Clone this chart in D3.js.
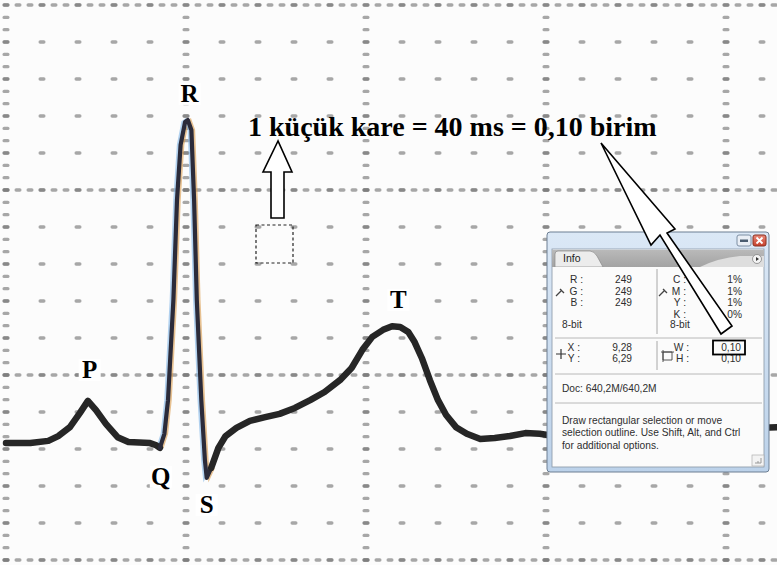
<!DOCTYPE html>
<html><head><meta charset="utf-8">
<script src="https://cdn.jsdelivr.net/npm/d3@7"></script>
<style>html,body{margin:0;padding:0;background:#fff;overflow:hidden}</style>
</head><body>
<svg id="c" width="777" height="565"></svg>
<script>
// ---- data (time in ms, amplitude in "birim") ----
const timesMs = [0,27,47,58,71,82,91,100,111,124,136,160,167,171,176,180,186,190,194,199,202,206,209,212,217,221,223,228,236,244,256,271,288,304,321,338,354,371,384,396,407,419,429,438,447,454,462,471,480,489,500,512,527,543,560,577,593,602,660,771,860];
const volts   = [0.316,0.316,0.322,0.335,0.359,0.397,0.430,0.405,0.368,0.332,0.319,0.316,0.310,0.303,0.341,0.432,0.703,0.973,1.122,1.184,1.189,1.162,0.973,0.703,0.432,0.270,0.222,0.249,0.303,0.335,0.357,0.376,0.386,0.395,0.411,0.432,0.454,0.486,0.519,0.568,0.603,0.622,0.632,0.630,0.616,0.589,0.546,0.486,0.432,0.392,0.359,0.341,0.327,0.330,0.335,0.343,0.341,0.338,0.343,0.351,0.359];
const waveLabels = ["P","Q","R","S","T"];
const labelMs    = [93,172,204,223,436];
const labelVolts = [0.492,0.203,1.238,0.127,0.681];
const gridMinorMs = 40, gridMajorMs = 200, gridMinorV = 0.1, gridMajorV = 0.5;
const noteText = "1 küçük kare = 40 ms = 0,10 birim";
const infoLeftLabels = ["R :","G :","B :"], infoLeftValues = ["249","249","249"];
const infoRightLabels = ["C :","M :","Y :","K :"], infoRightValues = ["1%","1%","1%","0%"];
const infoXYLabels = ["X :","Y :"], infoXYValues = ["9,28","6,29"];
const infoWHLabels = ["W :","H :"], infoWHValues = ["0,10","0,10"];
const docText = "Doc: 640,2M/640,2M";
const helpLines = ["Draw rectangular selection or move","selection outline.  Use Shift, Alt, and Ctrl","for additional options."];

const svg = d3.select("#c");
const W = 777, H = 565;
const x = d3.scaleLinear().domain([0, 860]).range([6, 780]);
const y = d3.scaleLinear().domain([0, 1.5]).range([560, 5]);

svg.append("rect").attr("width", W).attr("height", H).attr("fill", "#fcfcfc");

// ---- dotted ECG grid ----
const grid = svg.append("g");
const colsMs = d3.range(0, 860, gridMinorMs);
const rowsV = d3.range(0, 15.5, 1).map(d => d * gridMinorV);
const isMajorT = t => Math.abs(t / gridMajorMs - Math.round(t / gridMajorMs)) < 1e-6;
const isMajorV = v => Math.abs(v / gridMajorV - Math.round(v / gridMajorV)) < 1e-6;
const dots = [];
rowsV.forEach(v => colsMs.forEach(t => dots.push([t, v])));
rowsV.filter(isMajorV).forEach(v => d3.range(0, 860, gridMinorMs / 3).forEach(t => dots.push([t, v])));
colsMs.filter(isMajorT).forEach(t => d3.range(0, 1.5, gridMinorV / 3).forEach(v => dots.push([t, v])));
grid.selectAll("rect").data(dots).join("rect")
  .attr("x", d => x(d[0]) - 3.5).attr("y", d => y(d[1]) - 1.7)
  .attr("width", 7).attr("height", 3.4).attr("rx", 1.6)
  .attr("fill", "#7a7a7a").attr("opacity", 0.65);

// ---- ECG trace ----
const pts = timesMs.map((t, i) => [t, volts[i]]);
const line = d3.line().x(d => x(d[0])).y(d => y(d[1]));
const qrs = pts.filter(d => d[0] >= 171 && d[0] <= 228);
svg.append("path").datum(qrs).attr("d", line).attr("transform", "translate(2.5,0)")
  .attr("fill", "none").attr("stroke", "#d89a4a").attr("stroke-width", 2.5).attr("opacity", 0.6);
svg.append("path").datum(qrs).attr("d", line).attr("transform", "translate(-2.5,0)")
  .attr("fill", "none").attr("stroke", "#7fb4e6").attr("stroke-width", 2.5).attr("opacity", 0.6);
svg.append("path").datum(pts.filter(d => d[0] <= 171)).attr("d", line)
  .attr("fill", "none").attr("stroke", "#262626").attr("stroke-width", 6.5)
  .attr("stroke-linejoin", "round").attr("stroke-linecap", "round");
svg.append("path").datum(qrs).attr("d", line)
  .attr("fill", "none").attr("stroke", "#2b2b3a").attr("stroke-width", 4.2)
  .attr("stroke-linejoin", "round").attr("stroke-linecap", "round");
svg.append("path").datum(pts.filter(d => d[0] >= 228)).attr("d", line)
  .attr("fill", "none").attr("stroke", "#262626").attr("stroke-width", 6.5)
  .attr("stroke-linejoin", "round").attr("stroke-linecap", "round");

// ---- wave labels ----
const lab = svg.append("g").attr("font-family", "'Liberation Serif','Times New Roman',serif")
  .attr("font-weight", "bold").attr("font-size", 25).attr("fill", "#000").attr("text-anchor", "middle");
waveLabels.forEach((s, i) => {
  lab.append("rect").attr("x", x(labelMs[i]) - 11).attr("y", y(labelVolts[i]) - 19)
    .attr("width", 22).attr("height", 22).attr("fill", "#fff");
  lab.append("text").attr("x", x(labelMs[i])).attr("y", y(labelVolts[i])).text(s);
});

// ---- note text ----
svg.append("text").attr("x", 248).attr("y", 136)
  .attr("font-family", "'Liberation Serif','Times New Roman',serif").attr("font-weight", "bold")
  .attr("font-size", 28).attr("fill", "#000").text(noteText);

// small hollow up arrow + dashed selection square
svg.append("path").attr("d", "M278,141 L263,172 L271,172 L271,218 L284,218 L284,172 L292,172 Z")
  .attr("fill", "#fff").attr("stroke", "#000").attr("stroke-width", 1.6).attr("stroke-linejoin", "miter");
svg.append("rect").attr("x", 256).attr("y", 225).attr("width", 37).attr("height", 38)
  .attr("fill", "none").attr("stroke", "#222").attr("stroke-width", 1.2).attr("stroke-dasharray", "3,2.5");

// ---- Photoshop Info panel ----
const P = svg.append("g").attr("font-family", "'Liberation Sans',Arial,sans-serif").attr("font-size", 10.2).attr("fill", "#2e2e2e");
const defs = svg.append("defs");
const tg = defs.append("linearGradient").attr("id", "tb").attr("x1", 0).attr("y1", 0).attr("x2", 0).attr("y2", 1);
tg.append("stop").attr("offset", 0).attr("stop-color", "#dbe8f6");
tg.append("stop").attr("offset", 1).attr("stop-color", "#bcd2ea");
const tabg = defs.append("linearGradient").attr("id", "tabbar").attr("x1", 0).attr("y1", 0).attr("x2", 0).attr("y2", 1);
tabg.append("stop").attr("offset", 0).attr("stop-color", "#b9b9b9");
tabg.append("stop").attr("offset", 1).attr("stop-color", "#a3a3a3");
const cg = defs.append("linearGradient").attr("id", "closeg").attr("x1", 0).attr("y1", 0).attr("x2", 0).attr("y2", 1);
cg.append("stop").attr("offset", 0).attr("stop-color", "#e98a7a");
cg.append("stop").attr("offset", 1).attr("stop-color", "#c7402c");

P.append("rect").attr("x", 547).attr("y", 232).attr("width", 222).attr("height", 240).attr("rx", 3)
  .attr("fill", "url(#tb)").attr("stroke", "#6d7f93").attr("stroke-width", 1);
P.append("rect").attr("x", 552).attr("y", 249).attr("width", 212).attr("height", 218)
  .attr("fill", "#f7f7f7").attr("stroke", "#8a98a8").attr("stroke-width", 0.8);
// minimize / close
P.append("rect").attr("x", 737).attr("y", 235).attr("width", 14).attr("height", 11).attr("rx", 2)
  .attr("fill", "#e9eef5").attr("stroke", "#7d8ea3");
P.append("rect").attr("x", 740).attr("y", 239.5).attr("width", 8).attr("height", 2.5).attr("fill", "#4a5c70");
P.append("rect").attr("x", 753).attr("y", 235).attr("width", 13).attr("height", 11).attr("rx", 2)
  .attr("fill", "url(#closeg)").attr("stroke", "#8a3020");
P.append("path").attr("d", "M756.5,237.5 L762.5,243.5 M762.5,237.5 L756.5,243.5").attr("stroke", "#fff").attr("stroke-width", 1.8);
// tab bar
P.append("rect").attr("x", 552).attr("y", 250).attr("width", 212).attr("height", 17).attr("fill", "url(#tabbar)");
P.append("path").attr("d", "M555,267 L555,254 Q555,251 558,251 L590,251 Q594,251 597,256 L603,267 Z")
  .attr("fill", "#ececec").attr("stroke", "#8a8a8a").attr("stroke-width", 0.7);
P.append("path").attr("d", "M700,267 Q718,258 740,256 L764,256 L764,267 Z").attr("fill", "#dedede");
P.append("text").attr("x", 563).attr("y", 262).attr("font-size", 10.5).attr("fill", "#222").text("Info");
P.append("circle").attr("cx", 757).attr("cy", 259).attr("r", 4.5).attr("fill", "#f4f4f4").attr("stroke", "#777").attr("stroke-width", 0.7);
P.append("path").attr("d", "M756,257 L759,259 L756,261 Z").attr("fill", "#333");
P.append("rect").attr("x", 553).attr("y", 267).attr("width", 210).attr("height", 199).attr("fill", "#fbfbfb");

// section dividers
P.append("line").attr("x1", 657).attr("x2", 657).attr("y1", 269).attr("y2", 334).attr("stroke", "#a8a8a8");
P.append("line").attr("x1", 657).attr("x2", 657).attr("y1", 341).attr("y2", 370).attr("stroke", "#a8a8a8");
[338, 374, 403].forEach(yy => P.append("line").attr("x1", 555).attr("x2", 762).attr("y1", yy).attr("y2", yy).attr("stroke", "#b8b8b8"));

// RGB
infoLeftLabels.forEach((s, i) => {
  P.append("text").attr("x", 583).attr("y", 283 + i * 11.7).attr("text-anchor", "end").text(s);
  P.append("text").attr("x", 632).attr("y", 283 + i * 11.7).attr("text-anchor", "end").text(infoLeftValues[i]);
});
infoRightLabels.forEach((s, i) => {
  P.append("text").attr("x", 686).attr("y", 283 + i * 11.7).attr("text-anchor", "end").text(s);
  P.append("text").attr("x", 742).attr("y", 283 + i * 11.7).attr("text-anchor", "end").text(infoRightValues[i]);
});
P.append("text").attr("x", 562).attr("y", 328).text("8-bit");
P.append("text").attr("x", 670).attr("y", 328).text("8-bit");
// eyedropper icons
[[556, 290], [659, 290]].forEach(([ix, iy]) => {
  P.append("path").attr("d", `M${ix},${iy + 6} L${ix + 6},${iy} M${ix + 4},${iy - 1} L${ix + 8},${iy + 3}`)
    .attr("stroke", "#444").attr("stroke-width", 1.3).attr("fill", "none");
});
// XY
P.append("path").attr("d", "M556,354 L566,354 M561,349 L561,359").attr("stroke", "#333").attr("stroke-width", 1.2);
infoXYLabels.forEach((s, i) => {
  P.append("text").attr("x", 580).attr("y", 351 + i * 11).attr("text-anchor", "end").text(s);
  P.append("text").attr("x", 632).attr("y", 351 + i * 11).attr("text-anchor", "end").text(infoXYValues[i]);
});
P.append("path").attr("d", "M663,352 L672,352 L672,360 L663,360 Z").attr("fill", "none").attr("stroke", "#444").attr("stroke-width", 0.9);
P.append("path").attr("d", "M663,350 L663,362 M661,352 L674,352").attr("stroke", "#444").attr("stroke-width", 0.9);
infoWHLabels.forEach((s, i) => {
  P.append("text").attr("x", 689).attr("y", 351 + i * 11).attr("text-anchor", "end").text(s);
  P.append("text").attr("x", 741).attr("y", 351 + i * 11).attr("text-anchor", "end").text(infoWHValues[i]);
});
P.append("rect").attr("x", 713).attr("y", 340.5).attr("width", 32).attr("height", 14)
  .attr("fill", "none").attr("stroke", "#000").attr("stroke-width", 1.8);
// doc + help
P.append("text").attr("x", 562).attr("y", 392).text(docText);
helpLines.forEach((s, i) => P.append("text").attr("x", 562).attr("y", 424 + i * 12.4).text(s));
P.append("rect").attr("x", 752).attr("y", 455).attr("width", 12).attr("height", 11).attr("fill", "#f3f3f3").attr("stroke", "#b0b0b0").attr("stroke-width", 0.7);
P.append("path").attr("d", "M761,458 L761,463 M758,461 L758,463 M755,463 L761,463").attr("stroke", "#999").attr("stroke-width", 1);

// ---- long hollow arrow to W box ----
svg.append("path")
  .attr("d", "M601,143 L675,229 L667,233 L732,326 L721,334 L660,235 L651,245 Z")
  .attr("fill", "#fff").attr("stroke", "#000").attr("stroke-width", 1.6).attr("stroke-linejoin", "miter");
</script>
</body></html>
